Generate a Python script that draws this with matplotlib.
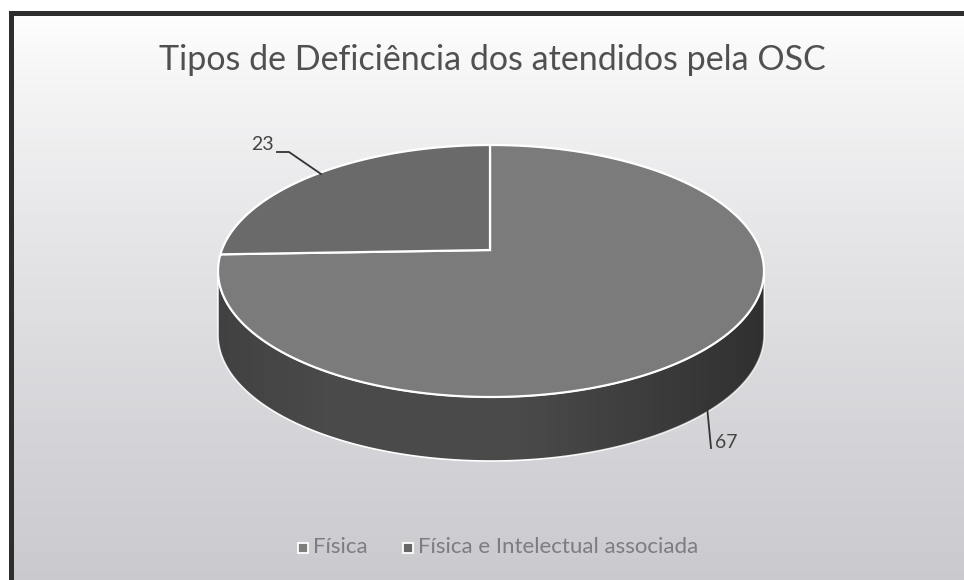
import numpy as np
import matplotlib.pyplot as plt
from matplotlib.patches import Polygon, Rectangle

# chart data
labels = ['Física', 'Física e Intelectual associada']
values = [67, 23]
title = 'Tipos de Deficiência dos atendidos pela OSC'

top_colors = ['#7b7b7b', '#6a6a6a']
side_color = '#4a4a4a'

# pie geometry in pixels (y goes down)
cx, cy = 491, 271      # ellipse centre
a, b = 273, 126        # semi axes
ax0, ay0 = 490, 250    # apex of the slices
depth = 64

fig = plt.figure(figsize=(9.64, 5.8), dpi=100)
ax = fig.add_axes([0, 0, 1, 1])
ax.set_xlim(0, 964)
ax.set_ylim(580, 0)
ax.axis('off')

# background gradient, white at top to light grey
grad = np.linspace(0, 1, 256)[:, None]
c_top = np.array([1.0, 1.0, 1.0])
c_bot = np.array([0.79, 0.79, 0.81])
img = c_top + (c_bot - c_top) * grad[..., None] ** 0.8
img = np.repeat(img, 2, axis=1)
ax.imshow(img, extent=[13, 964, 580, 14], aspect='auto', zorder=0)

# frame: dark line on the left and top
ax.add_patch(Rectangle((9, 11), 5, 569, color='#2e2e2e', zorder=1, lw=0))
ax.add_patch(Rectangle((9, 11), 955, 5, color='#2e2e2e', zorder=1, lw=0))


def ell(theta_deg, dy=0):
    t = np.radians(theta_deg)
    return cx + a * np.cos(t), cy - b * np.sin(t) + dy


def ray_hit(phi_deg):
    # ray from the apex in the projected direction of angle phi
    p = np.radians(phi_deg)
    dx, dy = a * np.cos(p), -b * np.sin(p)
    ox, oy = (ax0 - cx) / a, (ay0 - cy) / b
    ux, uy = dx / a, dy / b
    A = ux ** 2 + uy ** 2
    B = 2 * (ox * ux + oy * uy)
    C = ox ** 2 + oy ** 2 - 1
    t = (-B + np.sqrt(B ** 2 - 4 * A * C)) / (2 * A)
    px, py = ax0 + t * dx, ay0 + t * dy
    th = np.degrees(np.arctan2(-(py - cy) / b, (px - cx) / a))
    return px, py, th


# side wall (front half of the ellipse)
ts = np.linspace(180, 360, 200)
upper = [ell(t) for t in ts]
lower = [ell(t, depth) for t in ts[::-1]]
side = Polygon(upper + lower, closed=True, facecolor=side_color,
               edgecolor='white', lw=1.2, zorder=2)
ax.add_patch(side)
# darker shading toward the right end of the wall
shade = np.linspace(0, 1, 256)[None, :]
shade_img = np.zeros((1, 256, 4))
shade_img[..., 3] = 0.35 * np.clip((shade - 0.55) / 0.45, 0, 1) + 0.12 * np.clip((0.2 - shade) / 0.2, 0, 1)
sh = ax.imshow(shade_img, extent=[cx - a, cx + a, cy + b + depth, cy], aspect='auto', zorder=2.1)
sh.set_clip_path(side)

# top face slices, clockwise from 12 o'clock
start = 90.0
total = sum(values)
for v, col in zip(values, top_colors):
    sweep = 360.0 * v / total
    end = start - sweep
    x1, y1, th1 = ray_hit(start)
    x2, y2, th2 = ray_hit(end)
    while th2 > th1:
        th2 -= 360
    arc = [ell(t) for t in np.linspace(th1, th2, 200)]
    poly = Polygon([(ax0, ay0), (x1, y1)] + arc + [(x2, y2)], closed=True,
                   facecolor=col, edgecolor='white', lw=1.6, zorder=3)
    ax.add_patch(poly)
    start = end

font = 'Lato'

# data labels with leader lines
ax.plot([707, 711], [406, 448], color='#333333', lw=1.3, zorder=4)
ax.text(715, 442, str(values[0]), fontsize=14, color='#444444',
        family=font, va='center', ha='left', zorder=4)
ax.plot([277, 289, 321], [152, 152, 174], color='#333333', lw=1.3, zorder=4)
ax.text(274, 145, str(values[1]), fontsize=14, color='#444444',
        family=font, va='center', ha='right', zorder=4)

# title
ax.text(492, 60, title, fontsize=24.5, color='#505050', family=font,
        ha='center', va='center', zorder=4)

# legend
ax.plot(303, 548, marker='s', ms=7.5, color='#7e7e7e', mec='white', mew=1.3, zorder=4)
ax.text(313, 547, labels[0], fontsize=16, color='#7c7c82', family=font,
        va='center', ha='left', zorder=4)
ax.plot(408, 548, marker='s', ms=7.5, color='#666666', mec='white', mew=1.3, zorder=4)
ax.text(418, 547, labels[1], fontsize=16, color='#7c7c82', family=font,
        va='center', ha='left', zorder=4)

fig.savefig('out.png', dpi=100)
